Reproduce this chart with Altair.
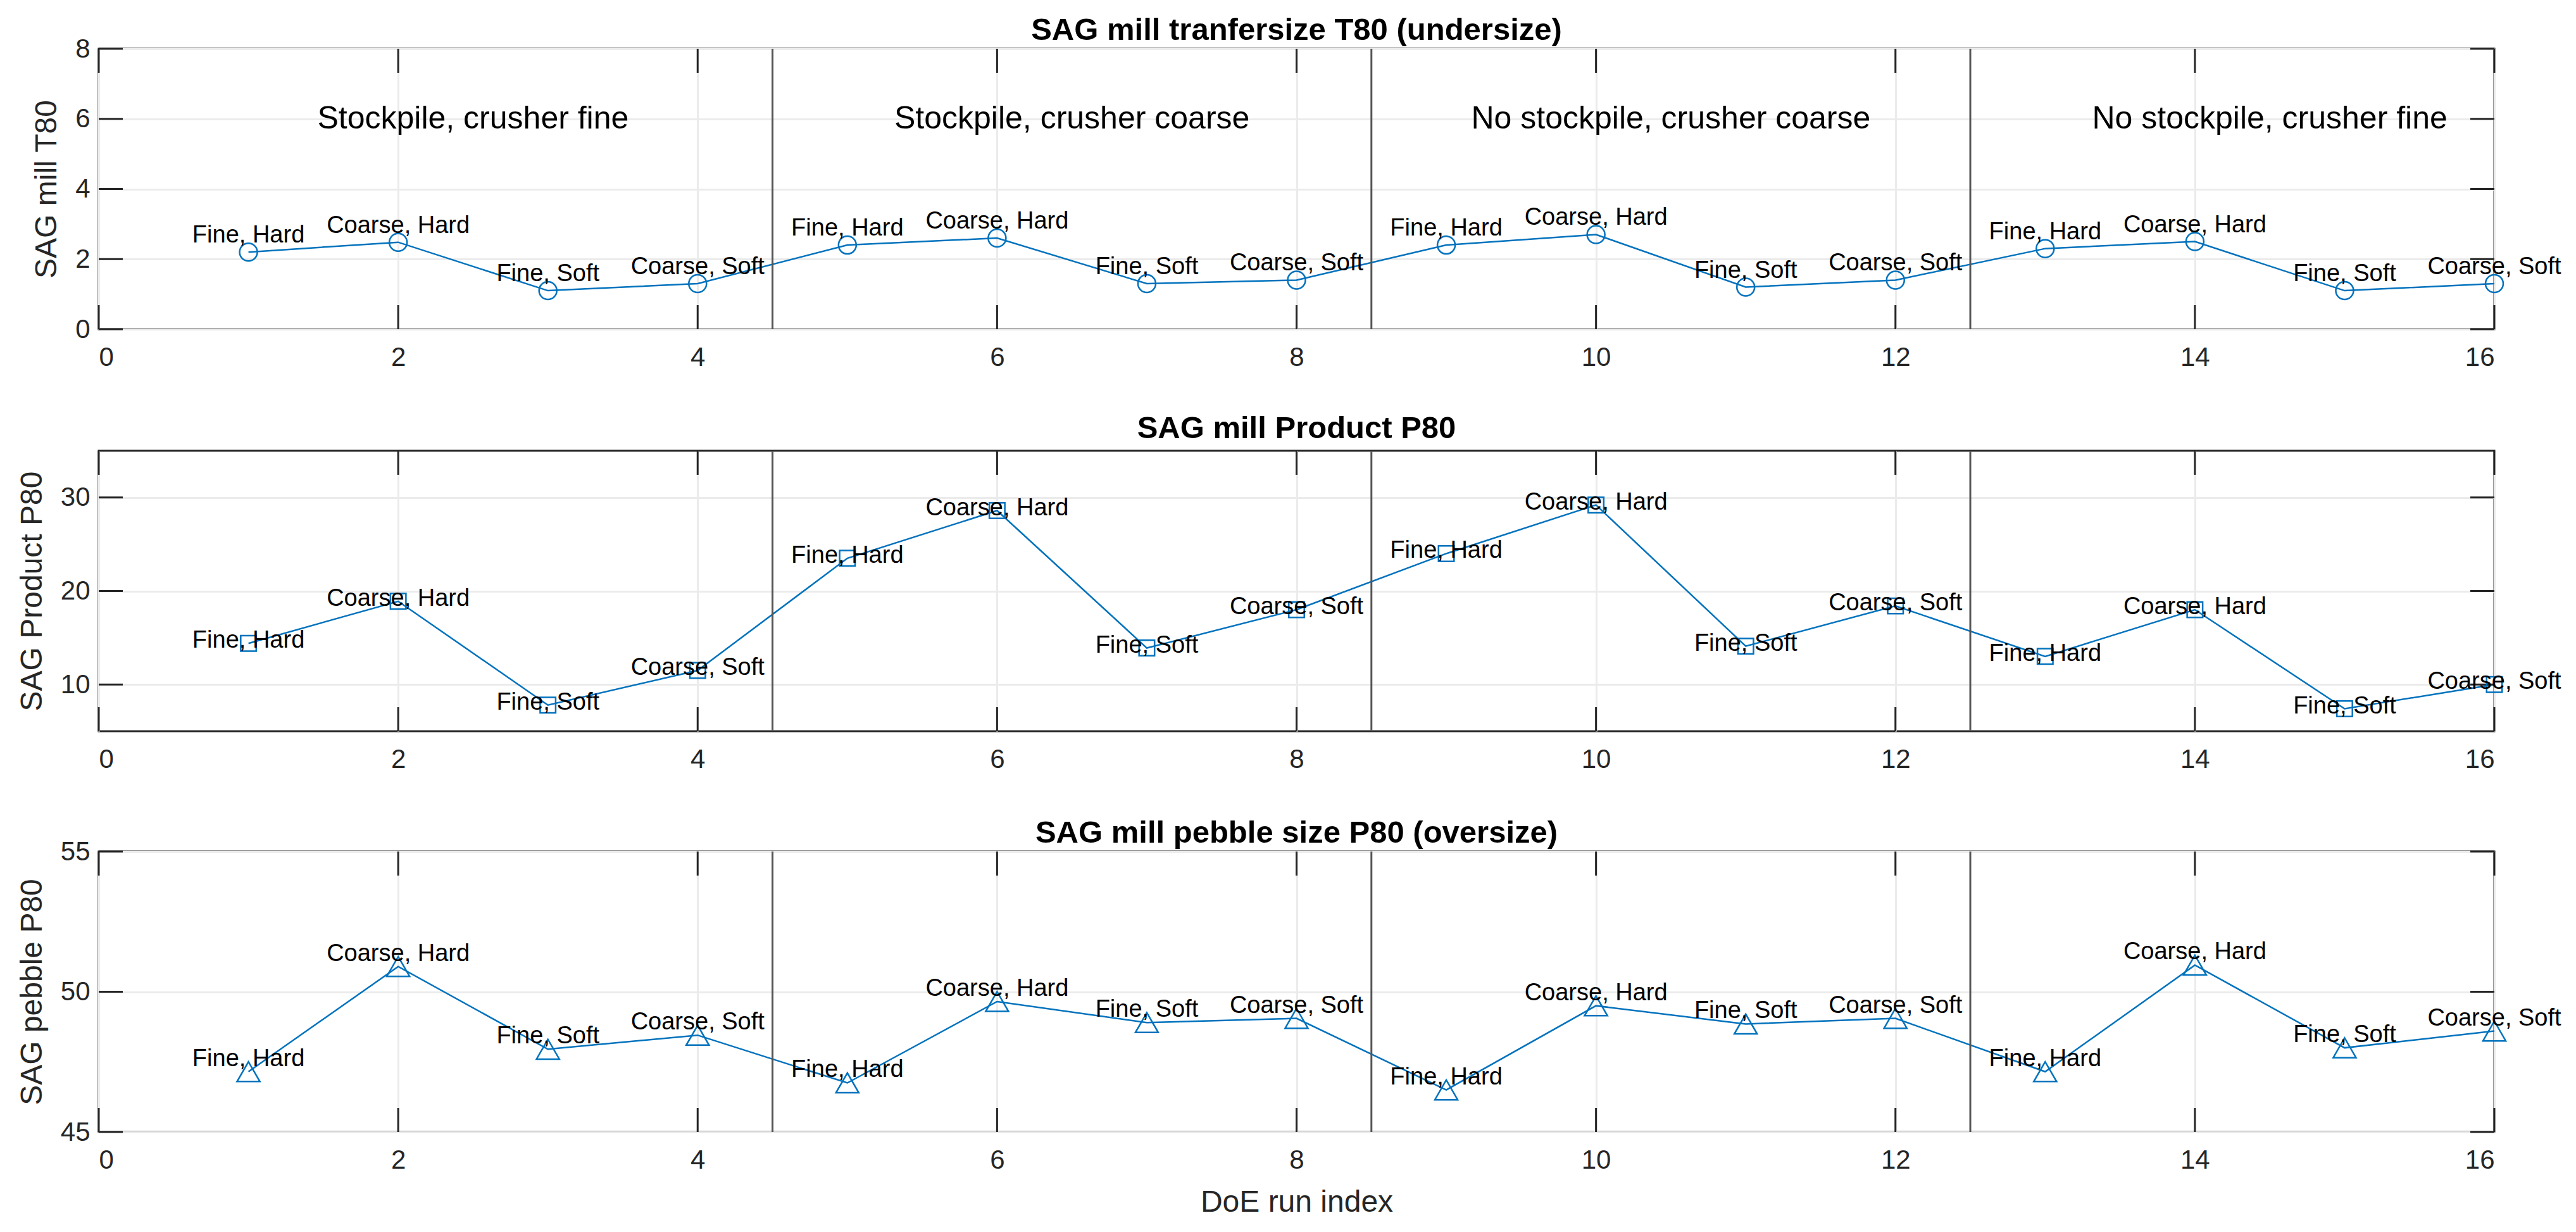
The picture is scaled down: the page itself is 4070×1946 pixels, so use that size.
import altair as alt
import pandas as pd

# ---------------- data ----------------
runs = list(range(1, 17))
conditions = ["Fine, Hard", "Coarse, Hard", "Fine, Soft", "Coarse, Soft"] * 4

t80 = [2.2, 2.48, 1.1, 1.3, 2.4, 2.6, 1.3, 1.4, 2.4, 2.7, 1.2, 1.4, 2.3, 2.5, 1.1, 1.3]
p80 = [14.4, 18.9, 7.8, 11.5, 23.5, 28.6, 13.9, 18.0, 24.0, 29.2, 14.1, 18.4, 13.0, 18.0, 7.4, 10.0]
pebble = [47.15, 50.9, 47.95, 48.45, 46.75, 49.65, 48.9, 49.05, 46.5, 49.5, 48.85, 49.05,
          47.15, 50.95, 48.0, 48.6]

x_ticks = [0, 2, 4, 6, 8, 10, 12, 14, 16]
t80_ticks = [0, 2, 4, 6, 8]
p80_ticks = [10, 20, 30]
pebble_ticks = [45, 50, 55]

separators = [4.5, 8.5, 12.5]
region_x = [2.5, 6.5, 10.5, 14.5]
region_y = [6, 6, 6, 6]
region_names = ["Stockpile, crusher fine", "Stockpile, crusher coarse",
                "No stockpile, crusher coarse", "No stockpile, crusher fine"]

# ---------------- style ----------------
W, H = 3785, 443
TICK = 38
FONT = "Liberation Sans"
DARK = "#262626"
BLUE = "#0072BD"


def panel(values, title, ytitle, ydomain, yticks, shape, msize, dy, title_offset,
          xtitle=None, regions=False):
    df = pd.DataFrame({"run": runs, "value": values, "cond": conditions})
    xs = alt.Scale(domain=[0, 16], nice=False, zero=False)
    ys = alt.Scale(domain=ydomain, nice=False, zero=False)
    xaxis_kw = dict(values=x_ticks, labelPadding=24, format="d", titlePadding=22)
    xaxis_kw["title"] = xtitle if xtitle else None
    xaxis = alt.Axis(**xaxis_kw)
    yaxis = alt.Axis(values=yticks, title=ytitle, labelPadding=14, titlePadding=20, format="d")

    line = alt.Chart(df).mark_line(color=BLUE, strokeWidth=2.5).encode(
        x=alt.X("run:Q", scale=xs, axis=xaxis),
        y=alt.Y("value:Q", scale=ys, axis=yaxis),
    )
    pts = alt.Chart(df).mark_point(shape=shape, size=msize, filled=False, color=BLUE,
                                   strokeWidth=2.5, opacity=1).encode(
        x=alt.X("run:Q", scale=xs), y=alt.Y("value:Q", scale=ys))
    txt = alt.Chart(df).mark_text(font=FONT, fontSize=38, color="black", align="center",
                                  baseline="middle", dy=dy).encode(
        x=alt.X("run:Q", scale=xs), y=alt.Y("value:Q", scale=ys), text="cond:N")

    seps = alt.Chart(pd.DataFrame({"sx": separators})).mark_rule(
        color="#555555", strokeWidth=3).encode(x=alt.X("sx:Q", scale=xs))

    xt = pd.DataFrame({"tx": x_ticks})
    yt = pd.DataFrame({"ty": yticks})
    bt = alt.Chart(xt).mark_rule(color=DARK, strokeWidth=3).encode(
        x=alt.X("tx:Q", scale=xs), y=alt.value(H), y2=alt.value(H - TICK))
    tt = alt.Chart(xt).mark_rule(color=DARK, strokeWidth=3).encode(
        x=alt.X("tx:Q", scale=xs), y=alt.value(0), y2=alt.value(TICK))
    lt = alt.Chart(yt).mark_rule(color=DARK, strokeWidth=3).encode(
        y=alt.Y("ty:Q", scale=ys), x=alt.value(0), x2=alt.value(TICK))
    rt = alt.Chart(yt).mark_rule(color=DARK, strokeWidth=3).encode(
        y=alt.Y("ty:Q", scale=ys), x=alt.value(W - TICK), x2=alt.value(W))

    layers = [line, seps, bt, tt, lt, rt, pts, txt]
    if regions:
        rdf = pd.DataFrame({"rx": region_x, "ry": region_y, "name": region_names})
        reg = alt.Chart(rdf).mark_text(font=FONT, fontSize=50, color="black",
                                       align="center", baseline="middle").encode(
            x=alt.X("rx:Q", scale=xs), y=alt.Y("ry:Q", scale=ys), text="name:N")
        layers.append(reg)

    return alt.layer(*layers).properties(
        width=W, height=H,
        title=alt.TitleParams(text=title, fontSize=49, fontWeight="bold", font=FONT,
                              color="black", offset=title_offset, anchor="middle"),
    )


p1 = panel(t80, "SAG mill tranfersize T80 (undersize)", "SAG mill T80", [0, 8], t80_ticks,
           "circle", 784, -26, -17, regions=True)
p2 = panel(p80, "SAG mill Product P80", "SAG Product P80", [5, 35], p80_ticks,
           "square", 600, -4, 9)
p3 = panel(pebble, "SAG mill pebble size P80 (oversize)", "SAG pebble P80", [45, 55], pebble_ticks,
           "triangle-up", 1300, -20, -17, xtitle="DoE run index")

top_two = alt.vconcat(p1, p2, spacing=64)
chart = alt.vconcat(top_two, p3, spacing=68).properties(
    background="white",
    padding={"left": 17, "top": 14, "right": 5, "bottom": 5},
).configure_view(
    stroke=DARK, strokeWidth=3
).configure_axis(
    tickSize=0, domain=False, grid=True, gridColor="#ebebeb", gridWidth=3,
    labelFont=FONT, labelFontSize=42, labelColor=DARK,
    titleFont=FONT, titleFontSize=48, titleFontWeight="normal", titleColor=DARK,
)

chart.save("out.html", embed_options={"renderer": "svg", "actions": False})
